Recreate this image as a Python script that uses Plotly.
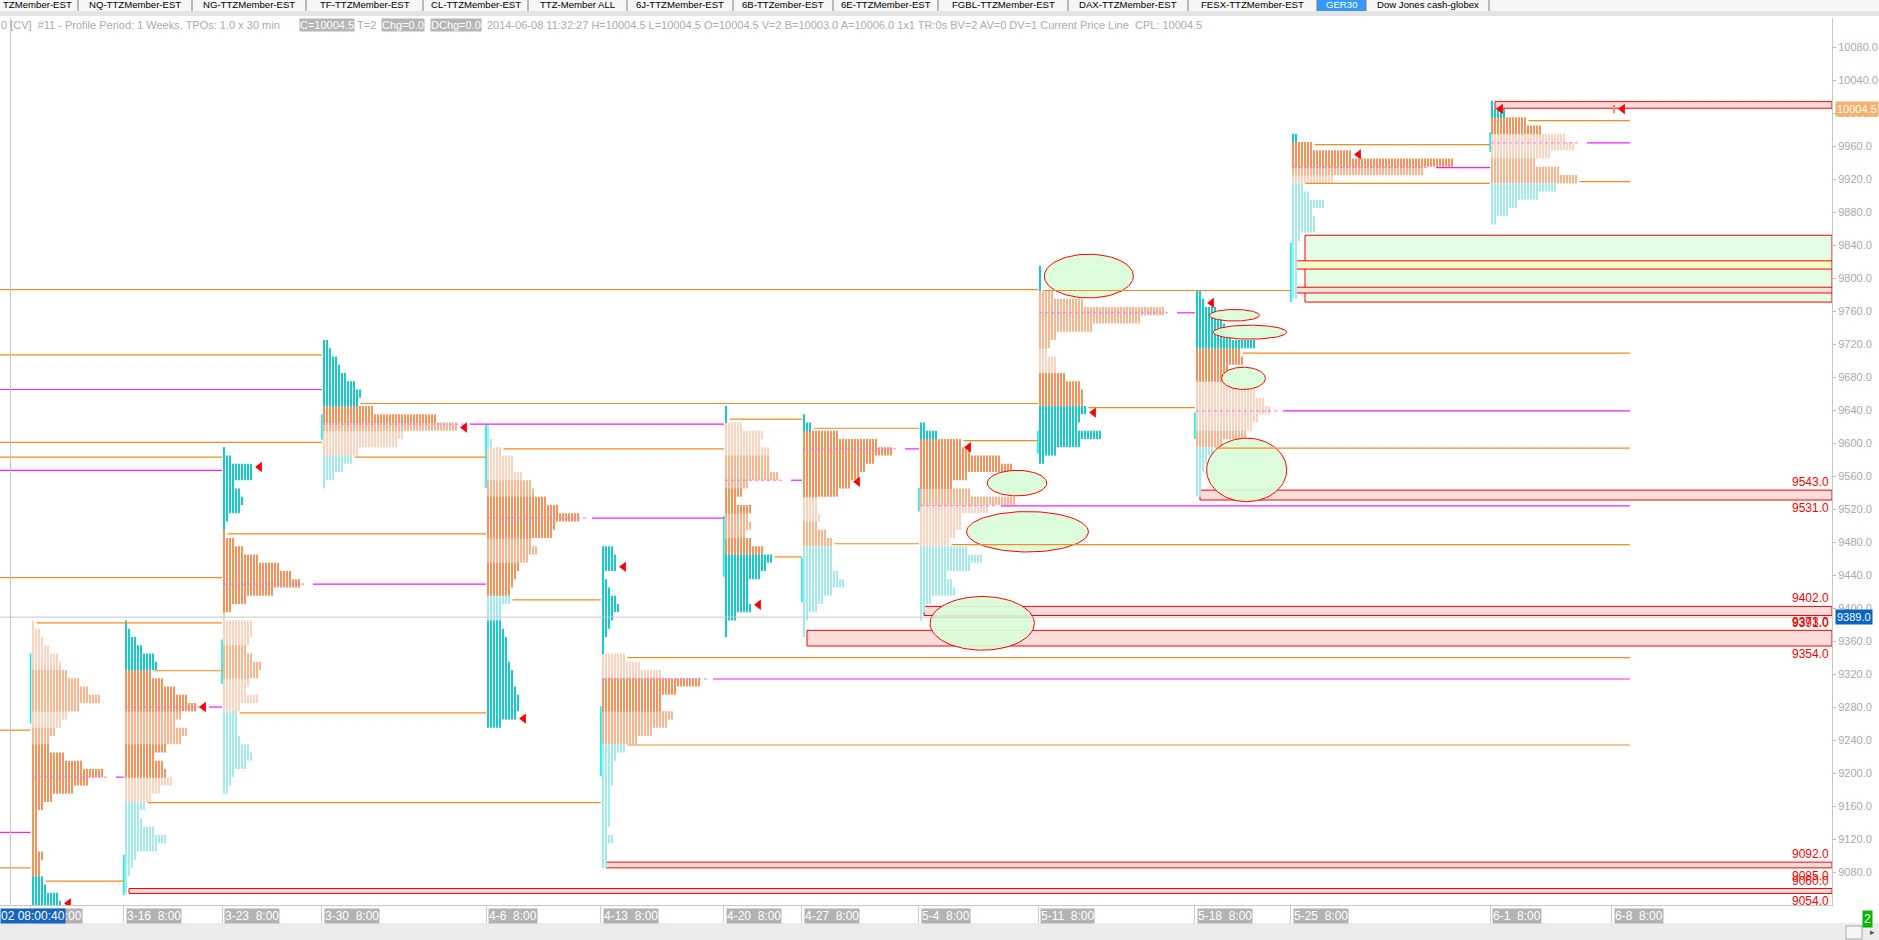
import numpy as np
import plotly.graph_objects as go

# ------------------------------------------------------------------ data
period_labels = ["3-9  8:00", "3-16  8:00", "3-23  8:00", "3-30  8:00", "4-6  8:00", "4-13  8:00",
                 "4-20  8:00", "4-27  8:00", "5-4  8:00", "5-11  8:00", "5-18  8:00", "5-25  8:00",
                 "6-1  8:00", "6-8  8:00"]
# time slot of each weekly period on the x axis (in TPO columns)
period_slot = [10.2, 41.3, 74.0, 107.3, 162.0, 200.3, 241.3, 267.3, 306.3, 346.0, 398.3, 430.3, 496.7, 537.3]

tpo_step = 10  # price points per profile row
profile_top = [9380, 9380, 9590, 9720, 9620, 9470, 9640, 9630, 9620, 9810, 9780, 9970, 10010, 10005]

# TPO counts per row (top -> bottom) and zone runs (code, rows)
tpo_0309 = [1, 3, 4, 6, 9, 10, 12, 16, 19, 23, 16, 12, 10, 8, 6, 6, 11, 17, 24, 19, 14, 7, 4, 2, 2, 2, 2, 2, 4, 3, 3, 4, 5, 9, 10]
zone_0309 = [("p", 6), ("o", 5), ("p", 2), ("o", 2), ("O", 16), ("T", 4)]
tpo_0316 = [1, 2, 4, 6, 10, 11, 9, 13, 17, 21, 24, 19, 17, 21, 19, 14, 10, 13, 14, 16, 12, 9, 7, 5, 6, 10, 14, 11, 4, 3, 2, 1, 1]
zone_0316 = [("T", 6), ("O", 5), ("o", 4), ("O", 4), ("p", 3), ("t", 11)]
tpo_0323 = [1, 3, 10, 10, 4, 6, 7, 6, 2, 1, 1, 4, 7, 12, 19, 23, 26, 17, 8, 3, 1, 10, 10, 9, 8, 10, 13, 12, 9, 8, 12, 6, 5, 5, 5, 6, 9, 10, 8, 4, 3, 2]
zone_0323 = [("T", 10), ("O", 10), ("p", 4), ("o", 4), ("p", 4), ("t", 10)]
tpo_0330 = [2, 3, 5, 6, 8, 11, 13, 12, 17, 38, 45, 27, 25, 12, 10, 7, 4, 1]
zone_0330 = [("T", 8), ("O", 2), ("o", 1), ("p", 3), ("t", 4)]
tpo_0406 = [1, 1, 2, 5, 9, 9, 12, 15, 16, 20, 24, 31, 23, 22, 15, 17, 14, 11, 10, 9, 8, 8, 5, 5, 5, 6, 7, 7, 7, 8, 9, 9, 10, 11, 11, 10, 5]
zone_0406 = [("t", 3), ("p", 4), ("o", 2), ("O", 5), ("o", 3), ("O", 4), ("t", 3), ("T", 13)]
tpo_0413 = [4, 5, 5, 1, 2, 3, 5, 6, 4, 3, 2, 1, 1, 8, 13, 20, 33, 25, 20, 20, 24, 22, 17, 12, 8, 5, 4, 4, 4, 3, 3, 3, 3, 3, 2, 4, 2, 2, 2]
zone_0413 = [("T", 13), ("p", 3), ("O", 4), ("o", 4), ("t", 15)]
tpo_0420 = [1, 1, 6, 13, 12, 15, 15, 15, 18, 8, 6, 4, 9, 8, 9, 7, 9, 13, 16, 14, 12, 8, 8, 8, 9, 4, 1, 1]
zone_0420 = [("T", 2), ("p", 4), ("o", 4), ("O", 3), ("o", 3), ("O", 2), ("T", 10)]
tpo_0427 = [1, 3, 12, 25, 30, 24, 21, 19, 16, 12, 5, 5, 6, 5, 8, 10, 10, 10, 10, 12, 14, 10, 7, 5, 2, 1, 1]
zone_0427 = [("T", 2), ("O", 8), ("p", 3), ("o", 3), ("t", 11)]
tpo_0504 = [2, 6, 14, 17, 27, 31, 16, 11, 17, 32, 23, 14, 14, 12, 10, 16, 21, 17, 9, 11, 12, 4, 2, 1]
zone_0504 = [("T", 2), ("O", 6), ("o", 2), ("p", 5), ("t", 9)]
tpo_0511 = [1, 1, 1, 5, 15, 42, 34, 18, 6, 4, 3, 6, 6, 9, 14, 15, 15, 16, 14, 13, 21, 14, 6, 2]
zone_0511 = [("T", 3), ("o", 7), ("p", 3), ("O", 4), ("T", 7)]
tpo_0518 = [2, 3, 7, 9, 10, 12, 20, 15, 16, 11, 9, 14, 20, 23, 25, 21, 19, 17, 9, 6, 4, 3, 2, 2, 2]
zone_0518 = [("T", 7), ("O", 4), ("p", 6), ("o", 2), ("t", 6)]
tpo_0525 = [2, 7, 20, 54, 44, 14, 4, 6, 11, 7, 8, 8, 3, 2, 2, 2, 2, 2, 2, 2]
zone_0525 = [("T", 1), ("O", 3), ("o", 1), ("p", 1), ("t", 14)]
tpo_0601 = [1, 5, 12, 17, 25, 28, 20, 15, 23, 29, 22, 16, 9, 6, 2]
zone_0601 = [("T", 2), ("O", 2), ("p", 3), ("o", 3), ("t", 5)]
tpo_0608 = [1]
zone_0608 = [("O", 1)]

profiles = [tpo_0309, tpo_0316, tpo_0323, tpo_0330, tpo_0406, tpo_0413, tpo_0420,
            tpo_0427, tpo_0504, tpo_0511, tpo_0518, tpo_0525, tpo_0601, tpo_0608]
zone_runs = [zone_0309, zone_0316, zone_0323, zone_0330, zone_0406, zone_0413, zone_0420,
             zone_0427, zone_0504, zone_0511, zone_0518, zone_0525, zone_0601, zone_0608]

# per-period levels
poc_price = [9195, 9280, 9429, 9623, 9509, 9314, 9555, 9593, 9524, 9758, 9639, 9934, 9964, 10005]
vah_price = [9382, 9324, 9490, 9648, 9593, 9340, 9629, 9618, 9603, 9785, 9709, 9962, 9991]
val_price = [9069, 9164, 9273, 9583, 9410, 9234, 9462, 9478, 9477, 9643, 9594, 9915, 9917]
close_price = [9042, 9280, 9571, 9619, 9266, 9450, 9404, 9553, 9595, 9637, 9770, 9950, 10005, 10005]
ib_high = [9345, 9101, 9362, 9635, 9622, 9281, 9512, 9461, 9546, 9615, 9637, 9843, 9977]
ib_low = [9260, 9052, 9308, 9604, 9546, 9196, 9438, 9407, 9517, 9587, 9605, 9771, 9953]
# period index where each extended level was touched (None = still open)
vah_end = [2, 2, 4, 9, 6, None, 7, 8, 9, 11, None, 12, None]
poc_end = [1, 2, 4, 6, 6, None, 7, 8, None, 10, None, 12, None]
val_end = [1, 5, 4, 4, 5, None, 7, 8, None, 10, None, 12, None]

# levels carried in from earlier profiles
prior_price = [9786, 9707, 9665, 9601, 9583, 9567, 9437, 9252, 9128, 9085]
prior_kind = ["va", "va", "poc", "va", "va", "poc", "va", "va", "poc", "va"]
prior_end = [9, 3, 3, 3, 2, 2, 2, 0, 0, 0]

# marked zones (rectangles)
zone_hi = [10014, 9821, 9789, 9543, 9402, 9373, 9092, 9060]
zone_lo = [10006, 9811, 9782, 9531, 9391, 9354, 9085, 9054]
zone_from = [12, 11, 11, 10, 8, 7, 5, 1]
zone_labelled = [False, False, False, True, True, True, True, True]
green_hi = [9852]
green_lo = [9771]
green_from = [11]

# hand-drawn ellipses (x in TPO columns, price range)
ell_x0 = [348.1, 329.1, 322.2, 310.0, 403.1, 404.4, 407.2, 402.2]
ell_x1 = [377.8, 348.9, 362.8, 344.8, 419.8, 428.9, 421.8, 428.9]
ell_lo = [9776, 9536, 9468, 9349, 9748, 9726, 9665, 9529]
ell_hi = [9829, 9567, 9517, 9414, 9762, 9743, 9692, 9606]

y_ticks = list(range(9080, 10081, 40))
last_price = 10004.5
cursor_price = 9389.0

tab_labels = ["TZMember-EST", "NQ-TTZMember-EST", "NG-TTZMember-EST", "TF-TTZMember-EST", "CL-TTZMember-EST",
              "TTZ-Member ALL", "6J-TTZMember-EST", "6B-TTZember-EST", "6E-TTZMember-EST", "FGBL-TTZMember-EST",
              "DAX-TTZMember-EST", "FESX-TTZMember-EST", "GER30", "Dow Jones cash-globex"]
tab_edges = [0, 78, 192, 306, 423, 528, 627, 733, 833, 938, 1068, 1188, 1317, 1366, 1489]

# ------------------------------------------------------------------ geometry
FIG_W, FIG_H = 1879, 940
M_L, M_R, M_T, M_B = 0, 47, 18, 35
PLOT_W = FIG_W - M_L - M_R
PLOT_H = FIG_H - M_T - M_B
COL_PX = 3
X_MAX = PLOT_W / COL_PX
Y_RANGE = [9040.0, 10115.4]
FONT = "Liberation Sans, Arial, sans-serif"


def xp(px):
    return (px - M_L) / PLOT_W


def yp(py):
    return 1 - (py - M_T) / PLOT_H


def snap(c):
    return round(c * COL_PX) / COL_PX


def x_start(i):
    return snap(period_slot[i] + 0.4)


def width_at(i, price):
    w = profiles[i]
    j = int(round((profile_top[i] - price) / tpo_step))
    j = min(max(j, 0), len(w) - 1)
    return w[j]


def expand(runs, n):
    s = "".join(c * r for c, r in runs)
    s = (s + s[-1] * n)[:n]
    return s


ZC = {"T": "#19caca", "t": "#a4ecec", "O": "#f8925a", "o": "#fab48e", "p": "#fcd3bf"}
VA_C = "#f78a1f"
POC_C = "#ff1aff"

fig = go.Figure()

# initial-balance ticks
ibx, iby = [], []
for i in range(len(ib_high)):
    ibx += [period_slot[i], period_slot[i], None]
    iby += [ib_high[i], ib_low[i], None]
fig.add_trace(go.Scatter(x=ibx, y=iby, mode="lines", line=dict(color="#00eaf0", width=1.5), hoverinfo="skip"))

# profile columns: one vertical stroke per TPO column, split into runs of the same zone
seg_x = {c: [] for c in ZC}
seg_y = {c: [] for c in ZC}
ov = 0.6  # small overlap so adjacent runs leave no seam
for i, w in enumerate(profiles):
    z = expand(zone_runs[i], len(w))
    x0 = x_start(i)
    top = profile_top[i]
    n = len(w)
    for k in range(max(w)):
        xc = x0 + k + 1.0 / 3
        j = 0
        while j < n:
            if w[j] > k:
                c = z[j]
                e = j
                while e + 1 < n and w[e + 1] > k and z[e + 1] == c:
                    e += 1
                hi = top - tpo_step * j + tpo_step / 2
                lo = top - tpo_step * e - tpo_step / 2
                if e + 1 < n and w[e + 1] > k:
                    lo -= ov
                seg_x[c] += [xc, xc, None]
                seg_y[c] += [hi, lo, None]
                j = e + 1
            else:
                j += 1
for c in ["p", "o", "O", "t", "T"]:
    fig.add_trace(go.Scatter(x=seg_x[c], y=seg_y[c], mode="lines", line=dict(color=ZC[c], width=2),
                             hoverinfo="skip"))

# POC inside each profile
px_, py_ = [], []
for i in range(len(profiles)):
    x0 = x_start(i)
    px_ += [x0, x0 + width_at(i, poc_price[i]) + 2, None]
    py_ += [poc_price[i], poc_price[i], None]
fig.add_trace(go.Scatter(x=px_, y=py_, mode="lines", line=dict(color="#ff70ff", width=1, dash="dot"),
                         hoverinfo="skip"))

# ellipses
t = np.linspace(0, 2 * np.pi, 91)
for a0, a1, b0, b1 in zip(ell_x0, ell_x1, ell_lo, ell_hi):
    cx, cy, rx, ry = (a0 + a1) / 2, (b0 + b1) / 2, (a1 - a0) / 2, (b1 - b0) / 2
    fig.add_trace(go.Scatter(x=cx + rx * np.cos(t), y=cy + ry * np.sin(t), mode="lines", fill="toself",
                             fillcolor="rgba(218,252,216,0.92)", line=dict(color="#ff0000", width=1),
                             hoverinfo="skip"))

# extended value-area / POC levels
CUR_END = period_slot[-1] + 6
lx = {"va": [], "poc": []}
ly = {"va": [], "poc": []}
for p, k, e in zip(prior_price, prior_kind, prior_end):
    lx[k] += [0, period_slot[e], None]
    ly[k] += [p, p, None]
for i in range(len(vah_price)):
    x0 = x_start(i)
    for p, e, k, gap in ((vah_price[i], vah_end[i], "va", 0.5), (poc_price[i], poc_end[i], "poc", 4),
                         (val_price[i], val_end[i], "va", 0.5)):
        xs = x0 + width_at(i, p) + gap
        xe = period_slot[e] if e is not None else CUR_END
        lx[k] += [xs, xe, None]
        ly[k] += [p, p, None]
fig.add_trace(go.Scatter(x=lx["va"], y=ly["va"], mode="lines", line=dict(color=VA_C, width=1.2), hoverinfo="skip"))
fig.add_trace(go.Scatter(x=lx["poc"], y=ly["poc"], mode="lines", line=dict(color=POC_C, width=1.2), hoverinfo="skip"))

# close markers
tx = [x_start(i) + width_at(i, close_price[i]) + 2.2 for i in range(len(close_price))]
fig.add_trace(go.Scatter(x=tx, y=close_price, mode="markers",
                         marker=dict(symbol="triangle-left", size=9, color="#ff0000", line=dict(width=0)),
                         hoverinfo="skip"))

# ------------------------------------------------------------------ shapes
shapes = []
for hi, lo, f in zip(green_hi, green_lo, green_from):
    shapes.append(dict(type="rect", xref="x", yref="y", x0=snap(period_slot[f] + 4.7), x1=X_MAX, y0=lo, y1=hi,
                       fillcolor="#e5fce5", line=dict(color="#ff0000", width=1), layer="below"))
zone_fill = ["#fddcdc", "#f3fccc", "#fbe0dc", "#fddcdc", "#fddcdc", "#fddcdc", "#fddcdc", "#fddcdc"]
for idx, (hi, lo, f) in enumerate(zip(zone_hi, zone_lo, zone_from)):
    shapes.append(dict(type="rect", xref="x", yref="y", x0=snap(period_slot[f] + 1.7), x1=X_MAX, y0=lo, y1=hi,
                       fillcolor=zone_fill[idx], line=dict(color="#ff0000", width=1), layer="below"))
# crosshair
shapes.append(dict(type="line", xref="x", yref="paper", x0=3.5, x1=3.5, y0=0, y1=1,
                   line=dict(color="#c6c6c6", width=1), layer="above"))
shapes.append(dict(type="line", xref="paper", yref="y", x0=0, x1=1, y0=cursor_price, y1=cursor_price,
                   line=dict(color="#c6c6c6", width=1), layer="above"))
# window chrome: tab strip, bottom scroll band
shapes.append(dict(type="rect", xref="paper", yref="paper", x0=xp(0), x1=xp(FIG_W), y0=yp(11), y1=yp(0),
                   fillcolor="#f6f6f6", line=dict(width=0), layer="above"))
shapes.append(dict(type="rect", xref="paper", yref="paper", x0=xp(0), x1=xp(FIG_W), y0=yp(16), y1=yp(11),
                   fillcolor="#e4e4e4", line=dict(width=0), layer="above"))
shapes.append(dict(type="rect", xref="paper", yref="paper", x0=xp(tab_edges[12]), x1=xp(tab_edges[13]),
                   y0=yp(11), y1=yp(0), fillcolor="#3399ff", line=dict(width=0), layer="above"))
for e in tab_edges[1:]:
    shapes.append(dict(type="line", xref="paper", yref="paper", x0=xp(e), x1=xp(e), y0=yp(11), y1=yp(0),
                       line=dict(color="#7a7a7a", width=1), layer="above"))
shapes.append(dict(type="rect", xref="paper", yref="paper", x0=xp(0), x1=xp(FIG_W), y0=yp(FIG_H), y1=yp(923),
                   fillcolor="#ececec", line=dict(width=0), layer="above"))
shapes.append(dict(type="rect", xref="paper", yref="paper", x0=xp(1846), x1=xp(1862), y0=yp(939), y1=yp(926),
                   fillcolor="#f6f6f6", line=dict(color="#a8a8a8", width=1), layer="above"))

# ------------------------------------------------------------------ annotations
ann = []
# tabs
for i, lab in enumerate(tab_labels):
    sel = lab == "GER30"
    if i == 0:
        ann.append(dict(x=xp(tab_edges[1] - 4), xanchor="right"))
    else:
        ann.append(dict(x=xp((tab_edges[i] + tab_edges[i + 1]) / 2), xanchor="center"))
    ann[-1].update(text=lab, xref="paper", yref="paper", y=yp(5), yanchor="middle", showarrow=False,
                   font=dict(family=FONT, size=9.6, color="#ffffff" if sel else "#000000"))

# header line
header = [(0, "0 [CV]\u00a0 #11 - Profile Period: 1 Weeks, TPOs: 1.0 x 30 min", False),
          (299, "C=10004.5", True), (356, "T=2", False), (381, "Chg=0.0", True), (430, "DChg=0.0", True),
          (486, "2014-06-08 11:32:27 H=10004.5 L=10004.5 O=10004.5 V=2 B=10003.0 A=10006.0 1x1 TR:0s BV=2 "
                "AV=0 DV=1 Current Price Line\u00a0 CPL: 10004.5", False)]
for x, txt, boxed in header:
    ann.append(dict(text=txt, xref="paper", yref="paper", x=xp(x), y=yp(25), xanchor="left", yanchor="middle",
                    showarrow=False, bgcolor="#b5b5b5" if boxed else None, borderpad=0,
                    font=dict(family=FONT, size=11, color="#ffffff" if boxed else "#ababab")))

# period labels
for s, lab in zip(period_slot, period_labels):
    ann.append(dict(text=lab.replace("  ", "\u00a0 "), xref="x", yref="paper", x=s, xshift=2, y=yp(916),
                    xanchor="left", yanchor="middle", showarrow=False, bgcolor="#b3b3b3", borderpad=0,
                    font=dict(family=FONT, size=12, color="#ffffff")))
ann.append(dict(text="02 08:00:40", xref="paper", yref="paper", x=xp(0), y=yp(916), xanchor="left",
                yanchor="middle", showarrow=False, bgcolor="#1565c0", borderpad=0,
                font=dict(family=FONT, size=12, color="#ffffff")))

# zone price labels
for hi, lo, lab in zip(zone_hi, zone_lo, zone_labelled):
    if not lab:
        continue
    ann.append(dict(text=f"{hi:.1f}", xref="paper", yref="y", x=xp(1830), y=hi, xanchor="right",
                    yanchor="bottom", showarrow=False, borderpad=0,
                    font=dict(family=FONT, size=12, color="#ff0000")))
    ann.append(dict(text=f"{lo:.1f}", xref="paper", yref="y", x=xp(1830), y=lo, xanchor="right",
                    yanchor="top", showarrow=False, borderpad=0,
                    font=dict(family=FONT, size=12, color="#ff0000")))

# price-axis flags
ann.append(dict(text=f"{last_price:.1f}", xref="paper", yref="y", x=xp(1835), y=last_price, xanchor="left",
                yanchor="middle", showarrow=False, bgcolor="#f9b06c", borderpad=1,
                font=dict(family=FONT, size=11, color="#ffffff")))
ann.append(dict(text=f"{cursor_price:.1f}", xref="paper", yref="y", x=xp(1835), y=cursor_price, xanchor="left",
                yanchor="middle", showarrow=False, bgcolor="#0a64c8", borderpad=1,
                font=dict(family=FONT, size=11, color="#ffffff")))
ann.append(dict(text="2", xref="paper", yref="paper", x=xp(1862), y=yp(919), xanchor="left",
                yanchor="middle", showarrow=False, bgcolor="#00b800", borderpad=1,
                font=dict(family=FONT, size=12, color="#ffffff")))
ann.append(dict(text="\u25b8", xref="paper", yref="paper", x=xp(1872), y=yp(932), xanchor="center",
                yanchor="middle", showarrow=False, font=dict(family=FONT, size=9, color="#555555")))

fig.update_layout(
    width=FIG_W, height=FIG_H, margin=dict(l=M_L, r=M_R, t=M_T, b=M_B, pad=0),
    paper_bgcolor="#ffffff", plot_bgcolor="#ffffff", showlegend=False,
    xaxis=dict(range=[0, X_MAX], showgrid=False, zeroline=False, showline=True, linecolor="#c6c6c6",
               tickmode="array", tickvals=period_slot, ticks="outside", ticklen=18, tickcolor="#cdcdcd",
               showticklabels=False, fixedrange=True),
    yaxis=dict(range=Y_RANGE, side="right", showgrid=False, zeroline=False, showline=True, linecolor="#c6c6c6",
               tickmode="array", tickvals=y_ticks, ticktext=[f"{v:.1f}" for v in y_ticks], ticks="outside",
               ticklen=3, tickcolor="#bcbcbc", tickfont=dict(family=FONT, size=11, color="#a9a9a9"),
               fixedrange=True),
    shapes=shapes, annotations=ann,
)

fig.write_html("out.html", config={"displayModeBar": False},
               post_script="document.body.style.margin='0';document.body.style.overflow='hidden';")
